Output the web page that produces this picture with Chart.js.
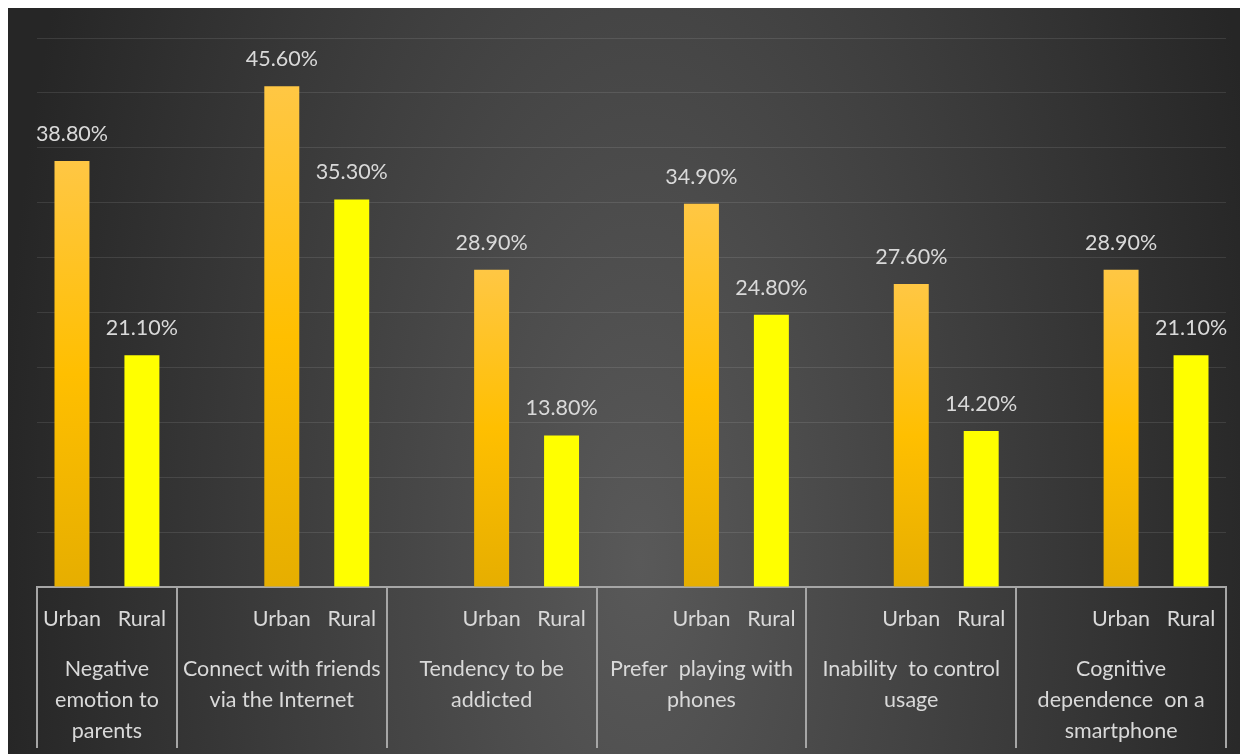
<!DOCTYPE html>
<html>
<head>
<meta charset="utf-8">
<script src="https://cdn.jsdelivr.net/npm/chart.js@4/dist/chart.umd.min.js"></script>
<style>
  html, body { margin: 0; padding: 0; background: #fff; }
  #wrap { width: 1240px; height: 754px; position: relative; }
</style>
</head>
<body>
<div id="wrap"><canvas id="smartphoneChart"></canvas></div>
<script>
// Chart data
const groupLabels = [
    ['Negative', 'emotion to', 'parents'],
    ['Connect with friends', 'via the Internet'],
    ['Tendency to be', 'addicted'],
    ['Prefer  playing with', 'phones'],
    ['Inability  to control', 'usage'],
    ['Cognitive', 'dependence  on a', 'smartphone']
];
const seriesNames = ['Urban', 'Rural'];
const urbanValues = [38.8, 45.6, 28.9, 34.9, 27.6, 28.9];
const ruralValues = [21.1, 35.3, 13.8, 24.8, 14.2, 21.1];
const yMax = 50;
const yStep = 5;

const FONT = 'Lato, "Open Sans", sans-serif';
const FONT_SIZE = 21.5;
const TEXT_COLOR = '#d9d9d9';
const LINE_COLOR = '#a6a6a6';

// Build slot layout: every group after the first starts with an empty slot
const slotLabels = [];
const urbanData = [];
const ruralData = [];
const groupStart = [];
const groupEnd = [];
groupLabels.forEach((g, i) => {
    if (i > 0) {
        slotLabels.push('');
        urbanData.push(null);
        ruralData.push(null);
    }
    groupStart.push(i > 0 ? slotLabels.length - 1 : 0);
    slotLabels.push(seriesNames[0]);
    urbanData.push(urbanValues[i]);
    ruralData.push(null);
    slotLabels.push(seriesNames[1]);
    urbanData.push(null);
    ruralData.push(ruralValues[i]);
    groupEnd.push(slotLabels.length - 1);
});

/**
 * Urban bars: light top to darker bottom, per bar
 */
function urbanGradient(context) {
    const chart = context.chart;
    const area = chart.chartArea;
    if (!area || context.raw == null) return '#ffc000';
    const top = chart.scales.y.getPixelForValue(context.raw);
    const g = chart.ctx.createLinearGradient(0, top, 0, area.bottom);
    g.addColorStop(0, '#ffc744');
    g.addColorStop(0.5, '#ffbf00');
    g.addColorStop(1, '#e6ae00');
    return g;
}

// Dark backdrop with a soft lighter center
const backdropPlugin = {
    id: 'backdrop',
    beforeDraw(chart) {
        const ctx = chart.ctx;
        ctx.save();
        ctx.fillStyle = '#ffffff';
        ctx.fillRect(0, 0, chart.width, chart.height);
        ctx.beginPath();
        ctx.rect(8, 8, chart.width - 8, chart.height - 8);
        ctx.clip();
        const rx = 640, ry = 1400;
        ctx.translate(640, 560);
        ctx.scale(1, ry / rx);
        const g = ctx.createRadialGradient(0, 0, 0, 0, 0, rx);
        g.addColorStop(0, '#595959');
        g.addColorStop(1, '#262626');
        ctx.fillStyle = g;
        ctx.fillRect(-700, -600, 1400, 1200);
        ctx.restore();
    }
};

// Value labels above bars, group labels and dividers under the axis
const labelsPlugin = {
    id: 'barLabels',
    afterDatasetsDraw(chart) {
        const ctx = chart.ctx;
        ctx.save();
        ctx.font = FONT_SIZE + 'px ' + FONT;
        ctx.fillStyle = TEXT_COLOR;
        ctx.textAlign = 'center';
        ctx.textBaseline = 'alphabetic';
        chart.data.datasets.forEach((ds, di) => {
            const meta = chart.getDatasetMeta(di);
            meta.data.forEach((bar, i) => {
                const v = ds.data[i];
                if (v == null) return;
                ctx.fillText(v.toFixed(2) + '%', bar.x, bar.y - 20);
            });
        });
        ctx.restore();
    },
    afterDraw(chart) {
        const ctx = chart.ctx;
        const x = chart.scales.x;
        const area = chart.chartArea;
        const slotW = x.getPixelForValue(1) - x.getPixelForValue(0);
        ctx.save();
        ctx.strokeStyle = LINE_COLOR;
        ctx.lineWidth = 2;
        const edges = groupStart.map(s => x.getPixelForValue(s) - slotW / 2);
        edges.push(x.getPixelForValue(groupEnd[groupEnd.length - 1]) + slotW / 2);
        edges.forEach(px => {
            ctx.beginPath();
            ctx.moveTo(Math.round(px), area.bottom);
            ctx.lineTo(Math.round(px), 748);
            ctx.stroke();
        });
        ctx.font = FONT_SIZE + 'px ' + FONT;
        ctx.fillStyle = TEXT_COLOR;
        ctx.textAlign = 'center';
        ctx.textBaseline = 'middle';
        groupLabels.forEach((lines, gi) => {
            const cx = (edges[gi] + edges[gi + 1]) / 2;
            lines.forEach((line, li) => {
                ctx.fillText(line, cx, 669 + li * 31);
            });
        });
        ctx.restore();
    }
};

new Chart(document.getElementById('smartphoneChart').getContext('2d'), {
    type: 'bar',
    data: {
        labels: slotLabels,
        datasets: [{
            label: seriesNames[0],
            data: urbanData,
            backgroundColor: urbanGradient,
            borderWidth: 0,
            grouped: false,
            barPercentage: 0.5,
            categoryPercentage: 1.0
        }, {
            label: seriesNames[1],
            data: ruralData,
            backgroundColor: '#ffff00',
            borderWidth: 0,
            grouped: false,
            barPercentage: 0.5,
            categoryPercentage: 1.0
        }]
    },
    options: {
        responsive: true,
        maintainAspectRatio: false,
        animation: false,
        layout: {
            padding: { left: 37, top: 38, right: 14, bottom: 0 }
        },
        plugins: {
            legend: { display: false },
            tooltip: { enabled: false }
        },
        scales: {
            x: {
                grid: { display: false, drawTicks: false },
                border: { display: true, color: LINE_COLOR, width: 2 },
                ticks: {
                    color: TEXT_COLOR,
                    font: { family: FONT, size: FONT_SIZE },
                    padding: 19,
                    autoSkip: false,
                    maxRotation: 0
                },
                afterFit(scale) { scale.height = 167; }
            },
            y: {
                min: 0,
                max: yMax,
                grid: { color: 'rgba(255, 255, 255, 0.1)', lineWidth: 1, drawTicks: false },
                border: { display: false },
                ticks: { display: false, stepSize: yStep },
                afterFit(scale) { scale.width = 0; }
            }
        }
    },
    plugins: [backdropPlugin, labelsPlugin]
});
</script>
</body>
</html>
